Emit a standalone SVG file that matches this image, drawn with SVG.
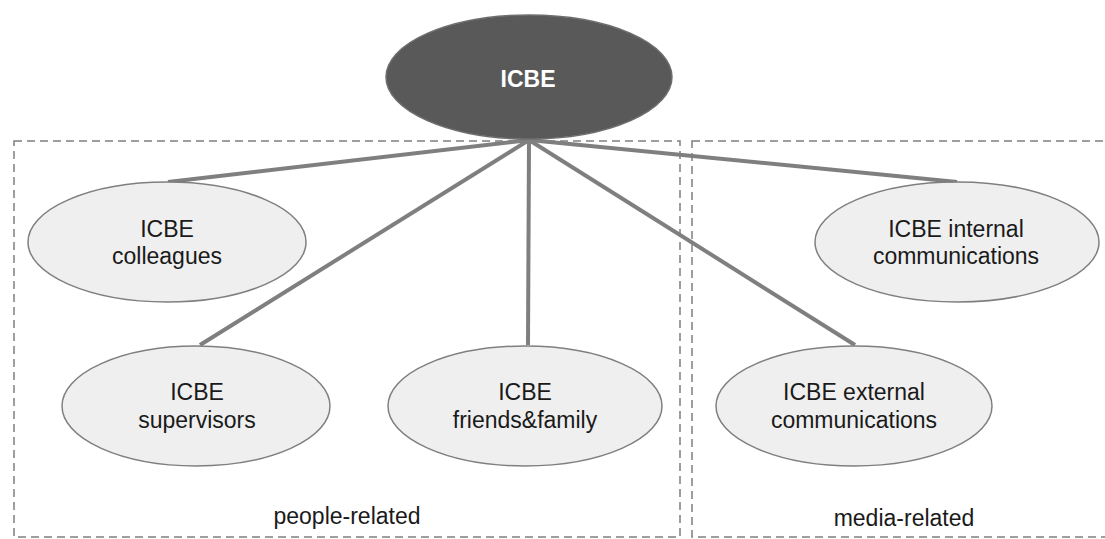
<svg xmlns="http://www.w3.org/2000/svg" width="1105" height="539" viewBox="0 0 1105 539">
<style>
.box{fill:none;stroke:#7f7f7f;stroke-width:1.5;stroke-dasharray:8 5}
.conn{stroke:#7f7f7f;stroke-width:4;fill:none;stroke-linecap:butt}
.node{fill:#efefef;stroke:#7f7f7f;stroke-width:1.5}
.t{font-family:"Liberation Sans",Arial,sans-serif;font-size:23px;fill:#1a1a1a;text-anchor:middle}
.top{fill:#595959;stroke:#6e6e6e;stroke-width:1.5}
.tt{font-family:"Liberation Sans",Arial,sans-serif;font-size:23px;font-weight:bold;fill:#ffffff;text-anchor:middle}
</style>
<rect width="1105" height="539" fill="#ffffff"/>
<g id="groups">
<rect class="box" x="14" y="141" width="666" height="396"/>
<rect class="box" x="692" y="141" width="420" height="396"/>
<text class="t" x="347" y="524">people-related</text>
<text class="t" x="904" y="526">media-related</text>
</g>
<g id="connectors">
<line class="conn" x1="529" y1="140" x2="168" y2="182"/>
<line class="conn" x1="529" y1="140" x2="957" y2="182"/>
<line class="conn" x1="529" y1="140" x2="200" y2="345"/>
<line class="conn" x1="529" y1="140" x2="528" y2="345"/>
<line class="conn" x1="529" y1="140" x2="855" y2="345"/>
</g>
<g id="icbe">
<ellipse class="top" cx="529" cy="77" rx="143" ry="62"/>
<text class="tt" x="528" y="87">ICBE</text>
</g>
<g id="colleagues">
<ellipse class="node" cx="167" cy="242" rx="139" ry="60"/>
<text class="t" x="167" y="237">ICBE</text>
<text class="t" x="167" y="264">colleagues</text>
</g>
<g id="internal">
<ellipse class="node" cx="957" cy="242" rx="142" ry="60"/>
<text class="t" x="956" y="237">ICBE internal</text>
<text class="t" x="956" y="264">communications</text>
</g>
<g id="supervisors">
<ellipse class="node" cx="196" cy="406" rx="134" ry="60"/>
<text class="t" x="197" y="400">ICBE</text>
<text class="t" x="197" y="428">supervisors</text>
</g>
<g id="friends">
<ellipse class="node" cx="525" cy="406" rx="137" ry="60"/>
<text class="t" x="525" y="400">ICBE</text>
<text class="t" x="525" y="428">friends&amp;family</text>
</g>
<g id="external">
<ellipse class="node" cx="854" cy="406" rx="138" ry="60"/>
<text class="t" x="854" y="400">ICBE external</text>
<text class="t" x="854" y="428">communications</text>
</g>
</svg>
